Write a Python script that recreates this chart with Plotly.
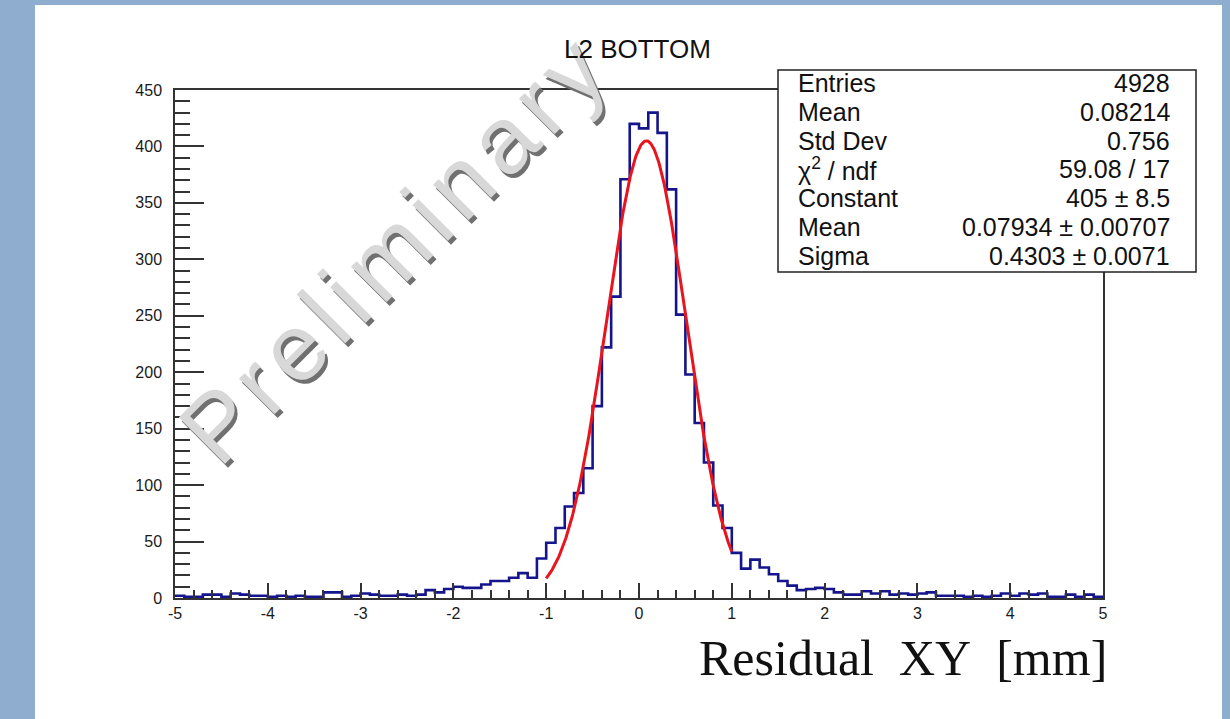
import plotly.graph_objects as go
import math

# ---------------- data ----------------
bin_low = -5.0
bin_width = 0.1
counts = [
    2, 1, 1, 3, 3, 1, 4, 3, 2, 2,          # -5.0 .. -4.1
    1, 2, 1, 2, 1, 1, 5, 5, 1, 2,          # -4.0 .. -3.1
    4, 3, 2, 2, 3, 2, 3, 7, 5, 8,          # -3.0 .. -2.1
    10, 9, 9, 12, 15, 15, 18, 22, 18, 35,  # -2.0 .. -1.1
    49, 62, 81, 93, 115, 170, 222, 267, 371, 420,   # -1.0 .. -0.1
    416, 430, 412, 362, 251, 198, 155, 120, 82, 62, # 0.0 .. 0.9
    40, 26, 34, 27, 21, 15, 11, 7, 8, 9,   # 1.0 .. 1.9
    8, 5, 3, 3, 6, 4, 6, 3, 4, 3,          # 2.0 .. 2.9
    4, 5, 2, 2, 2, 1, 2, 1, 2, 4,          # 3.0 .. 3.9
    2, 4, 3, 4, 1, 1, 3, 1, 3, 1,          # 4.0 .. 4.9
]

title_text = "L2 BOTTOM"
x_title = "Residual\u00a0\u00a0XY\u00a0\u00a0[mm]"
watermark = "Preliminary"
x_tickvals = [-5, -4, -3, -2, -1, 0, 1, 2, 3, 4, 5]
y_tickvals = [0, 50, 100, 150, 200, 250, 300, 350, 400, 450]

stat_labels = ["Entries", "Mean", "Std Dev", "\u03c7<sup>2</sup> / ndf", "Constant", "Mean", "Sigma"]
stat_values = ["4928", "0.08214", "0.756", "59.08 / 17", "405 \u00b1 8.5",
               "0.07934 \u00b1 0.00707", "0.4303 \u00b1 0.0071"]

# Gaussian fit parameters (from the stats box) and fit range
fit_const = 405.0
fit_mean = 0.07934
fit_sigma = 0.4303
fit_range = (-1.0, 1.0)

# ---------------- build ----------------
edges = [bin_low + i * bin_width for i in range(len(counts) + 1)]
step_x = edges
step_y = counts + [counts[-1]]

n_fit = 300
fit_x = [fit_range[0] + (fit_range[1] - fit_range[0]) * i / (n_fit - 1) for i in range(n_fit)]
fit_y = [fit_const * math.exp(-0.5 * ((x - fit_mean) / fit_sigma) ** 2) for x in fit_x]

fig = go.Figure()
fig.add_trace(go.Scatter(x=step_x, y=step_y, mode="lines", line_shape="hv",
                         line=dict(color="#14148c", width=2.6), hoverinfo="skip",
                         showlegend=False))
fig.add_trace(go.Scatter(x=fit_x, y=fit_y, mode="lines",
                         line=dict(color="#e8141e", width=3), hoverinfo="skip",
                         showlegend=False))

W, H = 1230, 719
L, R, T, B = 175, 1230 - 1103, 90, 719 - 598
pw, ph = W - L - R, H - T - B


def px2x(px):
    return (px - L) / pw


def py2y(py):
    return (H - B - py) / ph


frame_col = "#8fadcf"

shapes = [
    # white page over blue-gray frame
    dict(type="rect", xref="paper", yref="paper", layer="below",
         x0=px2x(35), x1=px2x(1222), y0=py2y(725), y1=py2y(5),
         fillcolor="white", line=dict(width=0)),
    # stats box
    dict(type="rect", xref="paper", yref="paper", layer="above",
         x0=px2x(778), x1=px2x(1196), y0=py2y(272), y1=py2y(70),
         fillcolor="white", line=dict(color="#222222", width=1.5)),
]

annotations = []
# watermark (shadow + light layer), letters slightly spaced
wm_text = "\u200a".join(watermark)
wm_font = "Liberation Sans Narrow, Arial Narrow, Liberation Sans, Arial"
for col, xs, ys in (("#707070", 3, -4), ("#d8d8d8", 0, 0)):
    annotations.append(dict(xref="paper", yref="paper", x=px2x(392), y=py2y(250),
                            xanchor="center", yanchor="middle",
                            text=wm_text, showarrow=False, textangle=-45,
                            xshift=xs, yshift=ys,
                            font=dict(family=wm_font, size=95, color=col)))
# title
annotations.append(dict(xref="paper", yref="paper", x=px2x(637), y=py2y(49),
                        xanchor="center", yanchor="middle",
                        text=title_text, showarrow=False,
                        font=dict(family="Liberation Sans, Arial", size=26, color="#111111")))
# x axis title
annotations.append(dict(xref="paper", yref="paper", x=px2x(1109), y=py2y(658),
                        xanchor="right", yanchor="middle",
                        text=x_title, showarrow=False,
                        font=dict(family="Liberation Serif, DejaVu Serif, serif", size=50,
                                  color="#111111")))
# stats box text
line_y0, line_dy = 83, 28.8
for i, (lab, val) in enumerate(zip(stat_labels, stat_values)):
    yy = py2y(line_y0 + i * line_dy)
    annotations.append(dict(xref="paper", yref="paper", x=px2x(796), y=yy,
                            xanchor="left", yanchor="middle", text=lab, showarrow=False,
                            font=dict(family="Liberation Sans, Arial", size=25, color="#111111")))
    annotations.append(dict(xref="paper", yref="paper", x=px2x(1172), y=yy,
                            xanchor="right", yanchor="middle", text=val, showarrow=False,
                            font=dict(family="Liberation Sans, Arial", size=25, color="#111111")))

axis_common = dict(showgrid=False, zeroline=False, showline=True, linecolor="#333333",
                   linewidth=1.5, mirror=True, ticks="inside", tickcolor="#333333",
                   tickwidth=1.5, tickfont=dict(family="Liberation Sans, Arial", size=16,
                                                color="#1a1a1a"))

fig.update_layout(
    width=W, height=H, autosize=False,
    margin=dict(l=L, r=R, t=T, b=B, pad=0),
    paper_bgcolor=frame_col, plot_bgcolor="white",
    shapes=shapes, annotations=annotations, showlegend=False,
    xaxis=dict(range=[-5, 5], tickmode="array", tickvals=x_tickvals,
               ticktext=[str(v) for v in x_tickvals], ticklen=15,
               minor=dict(dtick=0.2, tick0=0, ticklen=8, ticks="inside",
                          tickcolor="#333333", tickwidth=1.5, showgrid=False),
               ticklabelstandoff=0, **axis_common),
    yaxis=dict(range=[0, 450], tickmode="array", tickvals=y_tickvals,
               ticktext=[str(v) for v in y_tickvals], ticklen=29,
               minor=dict(dtick=10, tick0=0, ticklen=15, ticks="inside",
                          tickcolor="#333333", tickwidth=1.5, showgrid=False),
               ticklabelstandoff=8, **axis_common),
)

fig.write_html("out.html", config={"displayModeBar": False},
               post_script="document.body.style.margin='0';")
